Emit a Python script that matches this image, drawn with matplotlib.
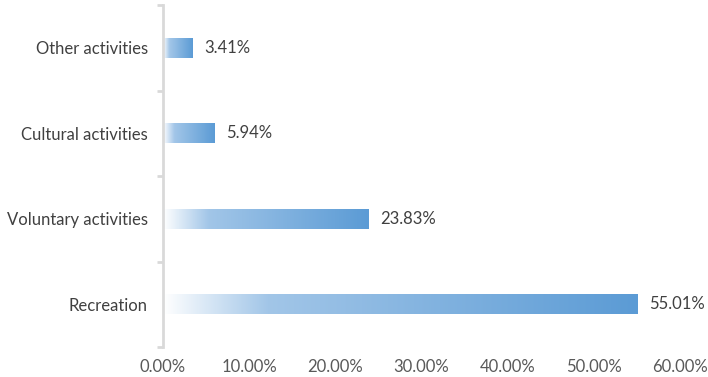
import numpy as np
import matplotlib.pyplot as plt
from matplotlib.colors import LinearSegmentedColormap

categories = ["Recreation", "Voluntary activities", "Cultural activities", "Other activities"]
values = [55.01, 23.83, 5.94, 3.41]
xticks = [0, 10, 20, 30, 40, 50, 60]

plt.rcParams['font.family'] = ['Lato', 'DejaVu Sans']

grad = LinearSegmentedColormap.from_list(
    "barfill", [(0.0, "#ffffff"), (0.22, "#a2c6e8"), (1.0, "#5b9bd5")])

fig = plt.figure(figsize=(7.08, 3.77), dpi=100)
ax = fig.add_axes([163 / 708, 30 / 377, (680 - 163) / 708, (372 - 30) / 377])

y = np.arange(len(categories))
h = 0.23
ramp = np.linspace(0, 1, 256).reshape(1, -1)
for yi, v in zip(y, values):
    ax.imshow(ramp, cmap=grad, extent=[0, v, yi - h / 2, yi + h / 2],
              aspect='auto', interpolation='bilinear', zorder=2)
    ax.text(v + 1.4, yi, "%.2f%%" % v, va='center', ha='left',
            fontsize=12, color='#404040')

ax.set_xlim(0, 60)
ax.set_ylim(-0.5, len(categories) - 0.5)
ax.set_xticks(xticks)
ax.set_xticklabels(["%.2f%%" % t for t in xticks], fontsize=12, color='#595959')
ax.set_yticks(y)
ax.set_yticklabels(categories, fontsize=12, color='#404040')
ax.set_yticks(np.arange(-0.5, len(categories), 1.0), minor=True)

for s in ['top', 'right', 'bottom']:
    ax.spines[s].set_visible(False)
ax.spines['left'].set_color('#d9d9d9')
ax.spines['left'].set_linewidth(2)

ax.tick_params(axis='x', length=0, pad=9)
ax.tick_params(axis='y', which='major', length=0, pad=11)
ax.tick_params(axis='y', which='minor', length=4, width=2, color='#d9d9d9')

fig.savefig("out.png", dpi=100)
